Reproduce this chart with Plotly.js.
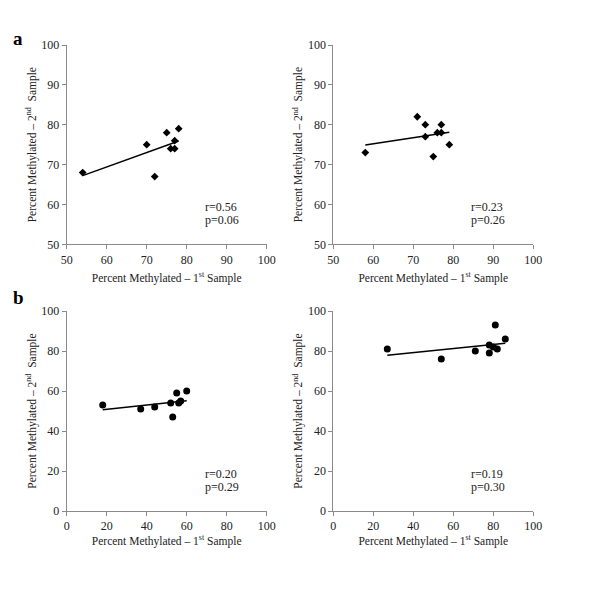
<!DOCTYPE html>
<html>
<head>
<meta charset="utf-8">
<script src="https://cdn.plot.ly/plotly-3.0.1.min.js"></script>
<style>html,body{margin:0;padding:0;background:#fff}#chart{width:600px;height:600px}</style>
</head>
<body>
<div id="chart"></div>
<script>
// ---- data ----
const aLeftX  = [54, 70, 72, 75, 78, 77, 76, 77];
const aLeftY  = [68, 75, 67, 78, 79, 76, 74, 74];
const aRightX = [58, 71, 73, 73, 75, 76, 77, 77, 79];
const aRightY = [73, 82, 80, 77, 72, 78, 78, 80, 75];
const bLeftX  = [18, 37, 44, 52, 53, 55, 56, 57, 60];
const bLeftY  = [53, 51, 52, 54, 47, 59, 54, 55, 60];
const bRightX = [27, 54, 71, 78, 78, 80, 81, 82, 86];
const bRightY = [81, 76, 80, 83, 79, 82, 93, 81, 86];
const statR = ["r=0.56", "r=0.23", "r=0.20", "r=0.19"];
const statP = ["p=0.06", "p=0.26", "p=0.29", "p=0.30"];
const panelLetters = ["a", "b"];
const xTitle = "Percent Methylated – 1<sup>st</sup> Sample";
const yTitle = "Percent Methylated – 2<sup>nd</sup>  Sample";

const FONT = "Liberation Serif";
const AXC = "#8a8a8a";
const TXT = "#222";

function fit(xs, ys) {
  const n = xs.length;
  const mx = xs.reduce((a, b) => a + b, 0) / n;
  const my = ys.reduce((a, b) => a + b, 0) / n;
  let sxy = 0, sxx = 0;
  for (let i = 0; i < n; i++) { sxy += (xs[i] - mx) * (ys[i] - my); sxx += (xs[i] - mx) ** 2; }
  const m = sxy / sxx, c = my - m * mx;
  const x0 = Math.min(...xs), x1 = Math.max(...xs);
  return { x: [x0, x1], y: [m * x0 + c, m * x1 + c] };
}

const panels = [
  { xs: aLeftX, ys: aLeftY, sym: "diamond", size: 6, ax: "", ay: "" },
  { xs: aRightX, ys: aRightY, sym: "diamond", size: 6, ax: "2", ay: "2" },
  { xs: bLeftX, ys: bLeftY, sym: "circle", size: 7, ax: "3", ay: "3" },
  { xs: bRightX, ys: bRightY, sym: "circle", size: 7, ax: "4", ay: "4" }
];

const traces = [];
panels.forEach(p => {
  traces.push({
    x: p.xs, y: p.ys, type: "scatter", mode: "markers",
    xaxis: "x" + p.ax, yaxis: "y" + p.ay,
    marker: { symbol: p.sym, size: p.size, color: "#000" },
    hoverinfo: "skip", showlegend: false
  });
  const f = fit(p.xs, p.ys);
  traces.push({
    x: f.x, y: f.y, type: "scatter", mode: "lines",
    xaxis: "x" + p.ax, yaxis: "y" + p.ay,
    line: { color: "#000", width: 1.5 },
    hoverinfo: "skip", showlegend: false
  });
});

const W = 600, H = 600;
const px = v => v / W;
const py = v => 1 - v / H;

// plot-area pixel boxes
const boxes = [
  { l: 66.7, r: 266.7, t: 45, b: 244.3 },
  { l: 333.3, r: 533.3, t: 45, b: 244.3 },
  { l: 66.7, r: 266.7, t: 311, b: 511 },
  { l: 333.3, r: 533.3, t: 311, b: 511 }
];

function axis(dom, range, dtick, anchor, title, standoff) {
  return {
    domain: dom, range: range, dtick: dtick, tick0: 0,
    showline: true, linecolor: AXC, linewidth: 1,
    ticks: "outside", ticklen: 4, tickcolor: AXC, tickwidth: 1,
    showgrid: false, zeroline: false, fixedrange: true, automargin: false,
    tickfont: { family: FONT, size: 12, color: TXT },
    title: { text: title, standoff: standoff, font: { family: FONT, size: 11.5, color: TXT } },
    anchor: anchor
  };
}

const layout = {
  width: W, height: H,
  margin: { l: 0, r: 0, t: 0, b: 0 },
  paper_bgcolor: "#fff", plot_bgcolor: "#fff",
  font: { family: FONT, color: TXT },
  showlegend: false,
  annotations: []
};

const ranges = [[50, 100, 10], [50, 100, 10], [0, 100, 20], [0, 100, 20]];
boxes.forEach((b, i) => {
  const sfx = i === 0 ? "" : String(i + 1);
  const top = i < 2;
  const xd = [px(b.l), px(b.r)], yd = [py(b.b), py(b.t)];
  layout["xaxis" + sfx] = axis(xd, [ranges[i][0], ranges[i][1]], ranges[i][2], "y" + sfx, xTitle, top ? 8 : 4);
  layout["yaxis" + sfx] = axis(yd, [ranges[i][0], ranges[i][1]], ranges[i][2], "x" + sfx, yTitle, 2);
  // stats
  const sx = b.l + 136;
  const sy = top ? 206.7 : 474.3;
  layout.annotations.push({
    xref: "paper", yref: "paper", x: px(sx), y: py(sy),
    xanchor: "left", yanchor: "middle", showarrow: false,
    text: statR[i], font: { family: FONT, size: 12, color: TXT }
  });
  layout.annotations.push({
    xref: "paper", yref: "paper", x: px(sx), y: py(sy + 13),
    xanchor: "left", yanchor: "middle", showarrow: false,
    text: statP[i], font: { family: FONT, size: 12, color: TXT }
  });
});

// panel letters
[[18, 39], [18, 297]].forEach((pos, i) => {
  layout.annotations.push({
    xref: "paper", yref: "paper", x: px(pos[0]), y: py(pos[1]),
    xanchor: "center", yanchor: "middle", showarrow: false,
    text: "<b>" + panelLetters[i] + "</b>", font: { family: FONT, size: 19, color: "#000" }
  });
});

Plotly.newPlot("chart", traces, layout, { displayModeBar: false });
</script>
</body>
</html>
